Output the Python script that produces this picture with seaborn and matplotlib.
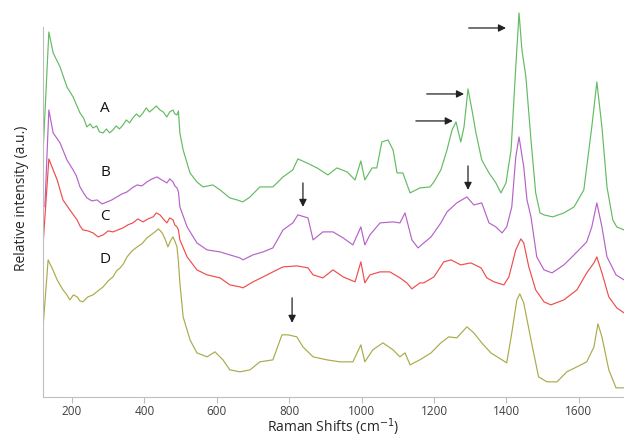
import pandas as pd
import matplotlib.pyplot as plt
import seaborn as sns

sns.set_style("white")
plt.rcParams['font.family'] = ['Open Sans', 'DejaVu Sans']

# Raman shift (cm-1) and relative intensity (a.u., offset traces)
a_x = [120, 136, 148, 167, 186, 203, 222, 232, 241, 250, 258, 268, 276, 286, 295, 304, 313, 322, 331, 341,
       350, 359, 368, 378, 387, 396, 405, 414, 424, 433, 443, 452, 462, 470, 479, 484, 490, 494, 498,
       507, 526, 545, 562, 589, 609, 636, 656, 672, 692, 719, 755, 783, 810, 824, 849, 877, 907, 932, 960,
       982, 998, 1009, 1029, 1042, 1056, 1073, 1087, 1098, 1114, 1134, 1161, 1189, 1200, 1219, 1236, 1250,
       1261, 1274, 1283, 1294, 1305, 1316, 1332, 1352, 1371, 1385, 1399, 1413, 1426, 1435, 1443, 1454, 1468,
       1481, 1493, 1504, 1528, 1559, 1587, 1614, 1636, 1650, 1664, 1678, 1694, 1705, 1725]
a_y = [244, 365, 344, 330, 310, 300, 284, 279, 270, 273, 269, 271, 265, 264, 268, 264, 267, 271, 268, 272,
       277, 274, 279, 283, 280, 284, 289, 285, 288, 291, 287, 285, 280, 285, 287, 283, 282, 286, 264,
       247, 224, 215, 210, 212, 207, 199, 197, 195, 200, 210, 210, 220, 227, 238, 234, 229, 222, 229, 225,
       217, 236, 217, 229, 229, 255, 257, 247, 224, 224, 204, 209, 210, 215, 227, 247, 267,
       275, 255, 270, 308, 287, 264, 237, 224, 214, 204, 214, 247, 330, 384, 347, 320, 257,
       204, 184, 182, 180, 184, 190, 207, 270, 315, 270, 210, 177, 170, 167]

b_x = [125, 136, 148, 167, 186, 203, 212, 222, 232, 241, 255, 269, 283, 297, 310, 324, 338, 352, 366, 380,
       393, 407, 421, 435, 448, 462, 470, 479, 484, 490, 494, 498, 518,
       545, 573, 609, 636, 664, 672, 700, 728, 755, 783, 810, 824, 852, 866, 893, 921, 949, 976, 998, 1009,
       1023, 1051, 1087, 1106, 1120, 1139, 1156, 1172, 1192, 1219, 1236, 1263, 1291, 1310, 1332, 1352, 1371,
       1388, 1401, 1415, 1426, 1435, 1448, 1457, 1468, 1484, 1504, 1526, 1559, 1587, 1622, 1636, 1650, 1664,
       1678, 1703, 1725]
b_y = [190, 287, 264, 254, 237, 227, 221, 210, 204, 199, 196, 197, 193, 195, 197, 200, 203, 205, 209, 212,
       211, 215, 218, 220, 217, 214, 218, 215, 211, 209, 205, 190, 170,
       154, 147, 145, 142, 139, 137, 142, 145, 149, 167, 174, 182, 179, 157, 165, 165, 159, 152, 170, 152,
       162, 174, 175, 174, 184, 157, 149, 154, 160, 174, 185, 194, 200, 192, 194, 174, 170,
       164, 170, 190, 240, 260, 230, 197, 180, 140, 127, 124, 132, 142, 155, 170, 194, 170,
       140, 122, 117]

c_x = [120, 136, 159, 175, 194, 204, 214, 222, 230, 244, 258, 272, 286, 300, 313, 327, 341, 354, 368, 382,
       396, 410, 424, 433, 443, 452, 462, 470, 479, 484, 490, 494, 498, 518,
       545, 573, 609, 636, 664, 672, 700, 728, 766, 783, 821, 852, 866, 893, 921, 949, 982, 998, 1009, 1023,
       1051, 1078, 1106, 1125, 1139, 1161, 1172, 1200, 1227, 1247, 1274, 1302, 1330, 1346, 1366, 1393, 1407,
       1426, 1440, 1448, 1462, 1481, 1504, 1523, 1559, 1595, 1622, 1642, 1650, 1664, 1683, 1705, 1725]
c_y = [152, 238, 217, 197, 187, 182, 177, 171, 167, 166, 164, 160, 162, 166, 165, 167, 169, 172, 174, 178,
       175, 178, 180, 184, 182, 178, 174, 179, 177, 172, 170, 167, 157, 140,
       127, 122, 119, 112, 110, 109, 115, 120, 127, 130, 131, 129, 122, 119, 127, 120, 115, 135, 114, 122,
       125, 125, 119, 114, 108, 114, 114, 120, 135, 137, 132, 134, 129, 119, 115, 112, 120,
       147, 158, 154, 130, 107, 95, 92, 97, 107, 124, 134, 140, 124, 100, 89, 84]

d_x = [120, 134, 146, 159, 167, 175, 184, 194, 204, 214, 222, 230, 244, 258, 272, 286, 300, 313, 323, 333,
       342, 352, 366, 380, 393, 407, 418, 429, 439, 449, 457, 465, 472, 479, 485, 490, 494, 498,
       507, 526, 545, 573, 595, 617, 636, 664, 692, 719, 755, 780, 797, 821, 838, 866, 904, 940, 976, 998,
       1009, 1031, 1059, 1087, 1106, 1120, 1134, 1161, 1192, 1219, 1241, 1263, 1291, 1310, 1332, 1357, 1379,
       1401, 1415, 1429, 1437, 1448, 1468, 1489, 1512, 1540, 1567, 1595, 1622, 1642, 1653, 1664, 1683, 1703,
       1725]
d_y = [70, 137, 128, 117, 112, 107, 103, 97, 102, 100, 96, 95, 100, 102, 106, 110, 116, 120, 126, 129,
       133, 140, 146, 150, 153, 159, 162, 165, 168, 164, 158, 150, 156, 160, 155, 150, 135, 114,
       80, 57, 44, 40, 45, 37, 27, 25, 27, 35, 37, 62, 62, 60, 50, 40, 37, 35, 35, 52,
       35, 47, 54, 47, 40, 44, 32, 37, 44, 54, 60, 59, 70, 64, 54, 44, 39,
       34, 64, 97, 103, 94, 57, 20, 15, 15, 25, 30, 35, 50, 73, 60, 27, 9,
       9]

trace_names = ["A", "B", "C", "D"]
colors = {"A": "#63bb62", "B": "#b562c9", "C": "#f04c4c", "D": "#a9ab4a"}

df = pd.concat([
    pd.DataFrame({"shift": a_x, "intensity": a_y, "trace": "A"}),
    pd.DataFrame({"shift": b_x, "intensity": b_y, "trace": "B"}),
    pd.DataFrame({"shift": c_x, "intensity": c_y, "trace": "C"}),
    pd.DataFrame({"shift": d_x, "intensity": d_y, "trace": "D"}),
])

# label positions and arrows (shift, intensity)
label_pos = {"A": (291, 288), "B": (291, 224), "C": (291, 180), "D": (291, 137)}
h_arrows = [((1296, 369), (1399, 369)), ((1180, 303), (1283, 303)), ((1150, 276), (1252, 276))]
v_arrows = [((1294, 231), (1294, 207)), ((838, 214), (838, 190)), ((808, 99), (808, 74))]

fig = plt.figure(figsize=(6.24, 4.38), dpi=100)
ax = fig.add_axes([0.069, 0.094, 0.931, 0.906])

sns.lineplot(data=df, x="shift", y="intensity", hue="trace", palette=colors,
             estimator=None, linewidth=0.85, legend=False, ax=ax)

for name in trace_names:
    lx, ly = label_pos[name]
    ax.text(lx, ly, name, fontsize=11, ha="center", va="center", color="#111111")

for start, end in h_arrows + v_arrows:
    ax.annotate("", xy=end, xytext=start,
                arrowprops=dict(arrowstyle="-|>", color="#222222", lw=0.9,
                                mutation_scale=11, shrinkA=0, shrinkB=0))

ax.set_xlim(120, 1725)
ax.set_ylim(0, 397)
ax.set_xticks([200, 400, 600, 800, 1000, 1200, 1400, 1600])
ax.set_yticks([])
ax.tick_params(axis="x", labelsize=8.5, colors="#404040", length=4, color="#bfbfbf",
               direction="out", pad=2, bottom=True)
for s in ["top", "right"]:
    ax.spines[s].set_visible(False)
ax.spines["left"].set_color("#bfbfbf")
ax.spines["bottom"].set_color("#bfbfbf")
ax.spines["left"].set_bounds(0, 370)
ax.set_xlabel("Raman Shifts (cm$^{-1}$)", fontsize=10, color="#262626", labelpad=-1)
ax.set_ylabel("Relative intensity (a.u.)", fontsize=10, color="#262626", labelpad=10)

fig.savefig("out.png", dpi=100)
